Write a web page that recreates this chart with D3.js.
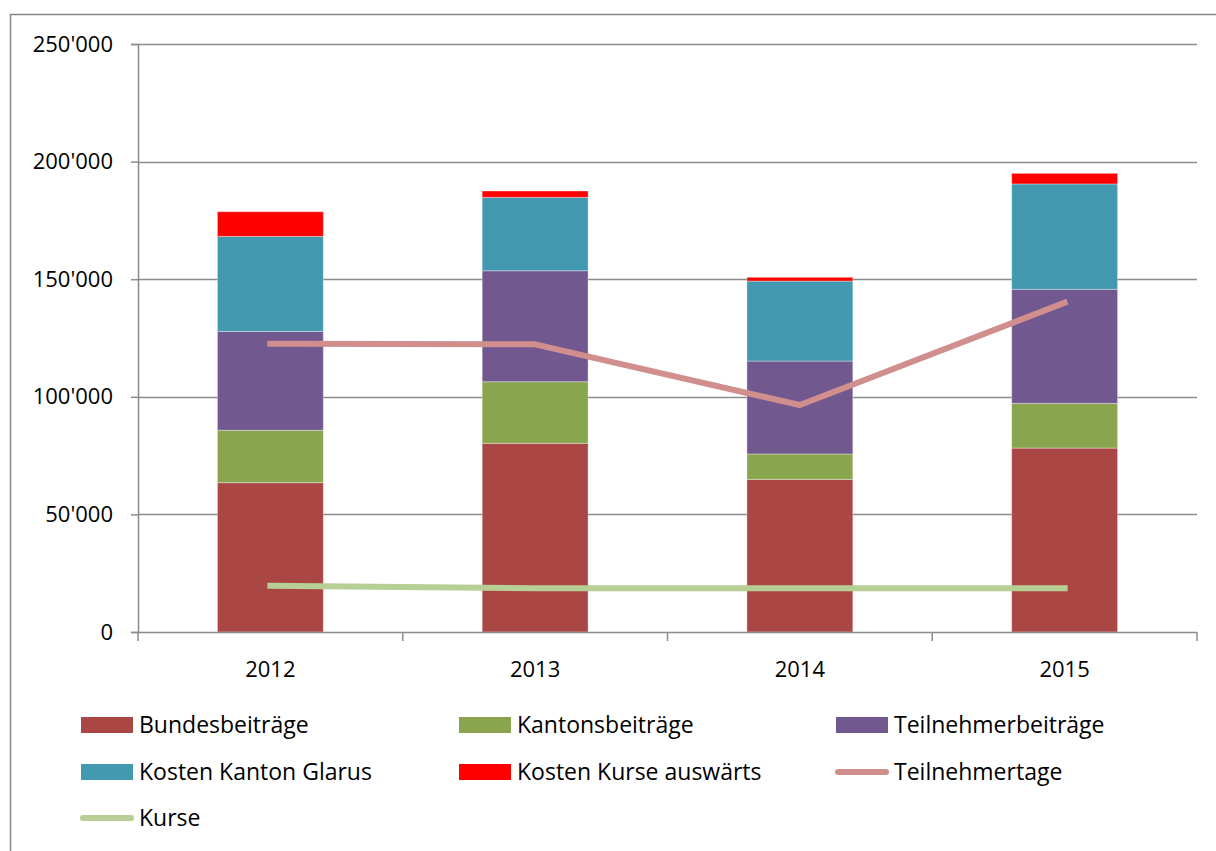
<!DOCTYPE html>
<html>
<head>
<meta charset="utf-8">
<script src="https://cdn.jsdelivr.net/npm/d3@7"></script>
<style>
  body { margin: 0; background: #fff; }
  text { font-family: "Open Sans", "DejaVu Sans", sans-serif; fill: #000; }
</style>
</head>
<body>
<script>
const years = ['2012', '2013', '2014', '2015']

const bundes = [63500, 80200, 64900, 78200]
const kantons = [22300, 26200, 10800, 19000]
const teilnehmer = [42000, 47200, 39500, 48500]
const glarus = [40400, 31200, 34000, 44800]
const auswaerts = [10500, 2700, 1600, 4500]

const teilnehmertage = [122600, 122300, 96500, 140000]
const kurse = [19700, 18600, 18600, 18600]

const yTicks = [0, 50000, 100000, 150000, 200000, 250000]

const barSeries = [
  { name: 'Bundesbeiträge', values: bundes, color: '#AA4643' },
  { name: 'Kantonsbeiträge', values: kantons, color: '#89A54E' },
  { name: 'Teilnehmerbeiträge', values: teilnehmer, color: '#71588F' },
  { name: 'Kosten Kanton Glarus', values: glarus, color: '#4198AF' },
  { name: 'Kosten Kurse auswärts', values: auswaerts, color: '#FF0000' }
]
const lineSeries = [
  { name: 'Teilnehmertage', values: teilnehmertage, color: '#D08E8D' },
  { name: 'Kurse', values: kurse, color: '#B7CE95' }
]

const W = 1216, H = 851
const plot = { left: 138, right: 1197, top: 44, bottom: 632 }

const svg = d3.select('body').append('svg')
  .attr('width', W)
  .attr('height', H)

// chart frame
svg.append('rect')
  .attr('x', 10.5).attr('y', 14.5)
  .attr('width', W + 20).attr('height', H + 20)
  .attr('fill', 'none')
  .attr('stroke', '#878787')
  .attr('stroke-width', 1.5)

const x = d3.scaleBand().domain(years).range([plot.left, plot.right]).padding(0)
const y = d3.scaleLinear().domain([0, 250000]).range([plot.bottom, plot.top])

const fmt = v => d3.format(',')(v).replace(/,/g, "'")

// grid
svg.append('g')
  .selectAll('line')
  .data(yTicks.filter(d => d > 0))
  .enter().append('line')
  .attr('x1', plot.left).attr('x2', plot.right)
  .attr('y1', d => Math.round(y(d)) + 0.5).attr('y2', d => Math.round(y(d)) + 0.5)
  .attr('stroke', '#8c8c8c')
  .attr('stroke-width', 1.5)

// stacked bars
const table = years.map((yr, i) => {
  const row = { year: yr }
  barSeries.forEach(s => { row[s.name] = s.values[i] })
  return row
})
const stacked = d3.stack().keys(barSeries.map(s => s.name))(table)
const barW = x.bandwidth() * 0.4

svg.append('g')
  .selectAll('g')
  .data(stacked)
  .enter().append('g')
  .attr('fill', (d, i) => barSeries[i].color)
  .selectAll('rect')
  .data(d => d)
  .enter().append('rect')
  .attr('x', d => x(d.data.year) + (x.bandwidth() - barW) / 2)
  .attr('width', barW)
  .attr('y', d => y(d[1]))
  .attr('height', d => y(d[0]) - y(d[1]))
  .attr('stroke', 'rgba(255,255,255,0.35)')
  .attr('stroke-width', 1)

// lines
const cx = yr => x(yr) + x.bandwidth() / 2
const line = d3.line().x((d, i) => cx(years[i])).y(d => y(d))

svg.append('g')
  .selectAll('path')
  .data(lineSeries)
  .enter().append('path')
  .attr('d', d => line(d.values))
  .attr('fill', 'none')
  .attr('stroke', d => d.color)
  .attr('stroke-width', 6)
  .attr('stroke-linejoin', 'round')
  .attr('stroke-linecap', 'square')

// axes
const yAxis = svg.append('g')
  .attr('transform', `translate(${plot.left},0)`)
  .call(d3.axisLeft(y).tickValues(yTicks).tickSize(7).tickPadding(18).tickFormat(fmt))
yAxis.attr('font-size', null).attr('font-family', null)
yAxis.select('.domain').attr('stroke', '#8c8c8c').attr('stroke-width', 1.5)
yAxis.selectAll('.tick line').attr('stroke', '#8c8c8c').attr('stroke-width', 1.5)
yAxis.selectAll('.tick text')
  .style('font-size', '22px')
  .attr('fill', '#000')

const xAxis = svg.append('g')
  .attr('transform', `translate(0,${plot.bottom})`)
xAxis.append('line')
  .attr('x1', plot.left).attr('x2', plot.right)
  .attr('y1', 0.5).attr('y2', 0.5)
  .attr('stroke', '#8c8c8c').attr('stroke-width', 1.5)
xAxis.selectAll('line.tick')
  .data(years.map(yr => x(yr)).concat([plot.right]))
  .enter().append('line')
  .classed('tick', true)
  .attr('x1', d => d).attr('x2', d => d)
  .attr('y1', 0).attr('y2', 9)
  .attr('stroke', '#8c8c8c').attr('stroke-width', 1.5)
xAxis.selectAll('text')
  .data(years)
  .enter().append('text')
  .attr('x', d => cx(d))
  .attr('y', 45)
  .attr('text-anchor', 'middle')
  .style('font-size', '22px')
  .text(d => d)

// legend
const legendItems = barSeries.map(s => ({ ...s, type: 'bar' }))
  .concat(lineSeries.map(s => ({ ...s, type: 'line' })))
const colX = [81, 459, 836]
const rowY = [725, 772, 818]

const leg = svg.append('g')
  .selectAll('g')
  .data(legendItems)
  .enter().append('g')
  .attr('transform', (d, i) => `translate(${colX[i % 3]},${rowY[Math.floor(i / 3)]})`)

leg.filter(d => d.type === 'bar').append('rect')
  .attr('x', 0).attr('y', -8)
  .attr('width', 52).attr('height', 16)
  .attr('fill', d => d.color)

leg.filter(d => d.type === 'line').append('line')
  .attr('x1', 2).attr('x2', 50)
  .attr('y1', 0).attr('y2', 0)
  .attr('stroke', d => d.color)
  .attr('stroke-width', 6)
  .attr('stroke-linecap', 'round')

leg.append('text')
  .attr('x', 58)
  .attr('y', 0)
  .attr('dy', '0.35em')
  .style('font-size', '23px')
  .text(d => d.name)
</script>
</body>
</html>
